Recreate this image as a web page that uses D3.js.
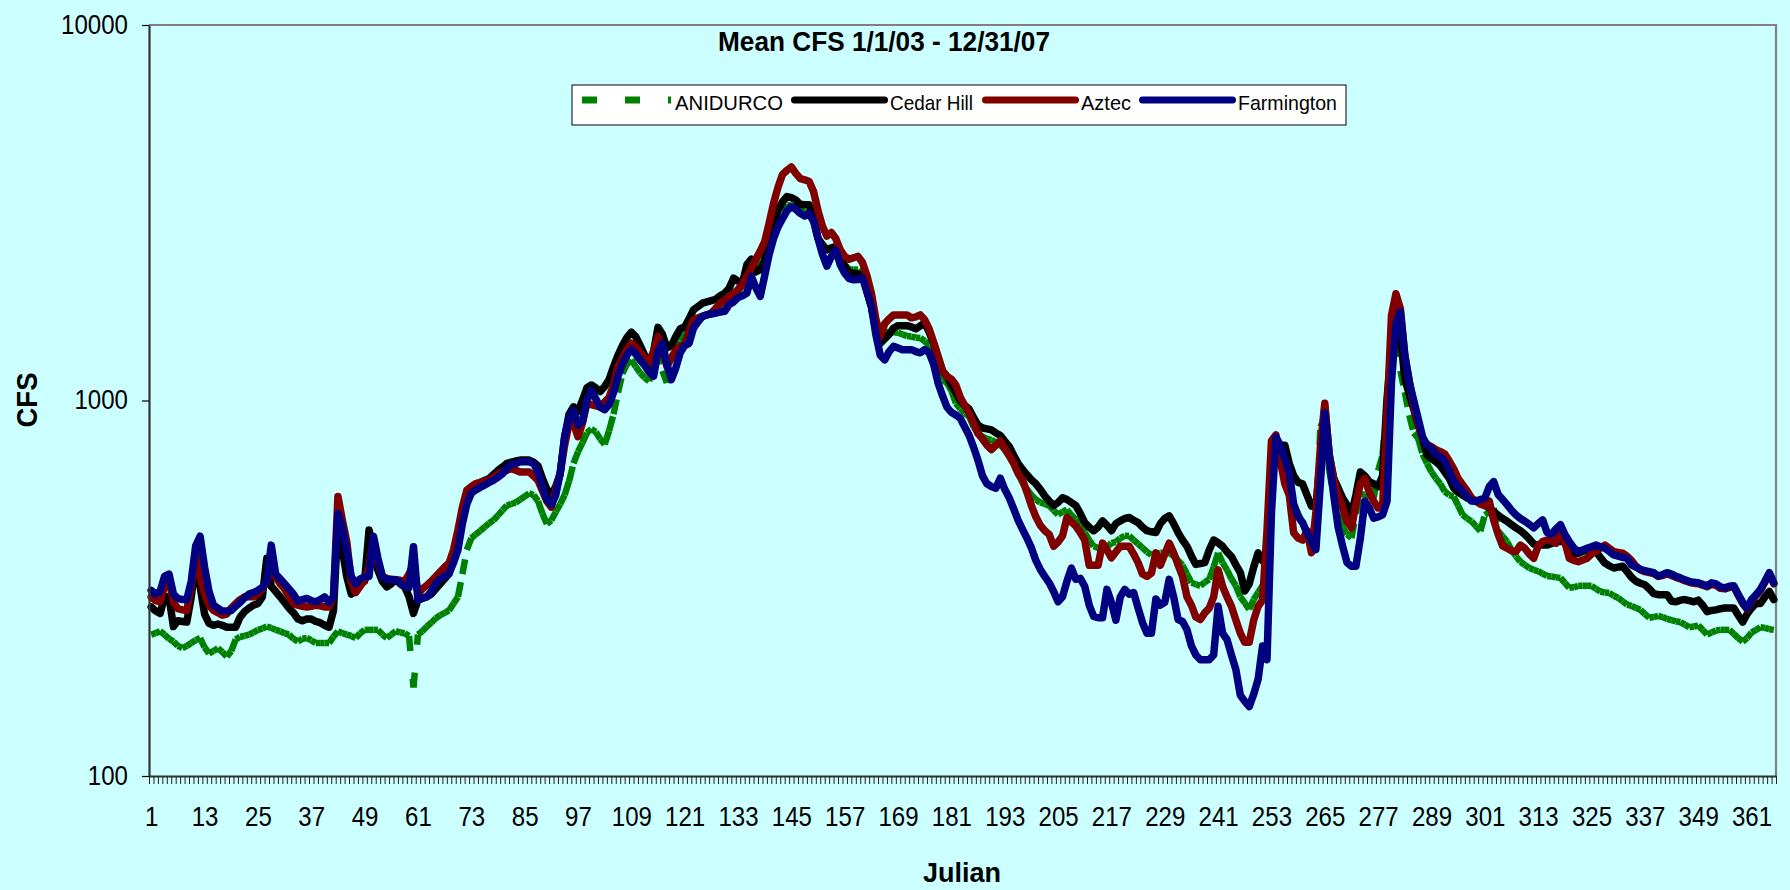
<!DOCTYPE html>
<html><head><meta charset="utf-8">
<script src="https://cdn.jsdelivr.net/npm/d3@7"></script>
<style>html,body{margin:0;padding:0;background:#CCFFFF;overflow:hidden}</style>
</head><body>
<svg id="c" width="1790" height="890"></svg>
<script>
// ---- data ----
const anidurco = [
238,240,243,238,232,228,222,219,222,226,
230,233,220,212,215,219,214,208,215,231,
235,236,238,241,245,247,250,248,245,243,
240,238,232,228,232,233,230,226,226,226,
226,235,243,240,238,236,233,240,245,245,
245,245,238,233,238,243,241,240,236,172,
238,243,250,256,263,268,272,276,288,300,
345,400,430,440,450,460,471,480,494,510,
525,530,535,545,555,566,560,540,500,469,
480,505,530,560,610,680,730,771,820,840,
825,790,764,830,920,1050,1180,1250,1283,1230,
1185,1150,1125,1250,1366,1200,1114,1280,1340,1440,
1500,1560,1609,1640,1675,1690,1705,1720,1760,1800,
1850,1893,1950,2013,2080,2140,2250,2378,2500,2800,
3050,3212,3280,3320,3300,3280,3220,3180,3150,3000,
2650,2580,2519,2560,2500,2378,2300,2232,2232,2232,
2150,1950,1750,1560,1450,1500,1530,1520,1515,1500,
1485,1480,1470,1467,1440,1400,1280,1205,1134,1114,
1063,983,950,925,907,850,820,801,790,785,
775,761,740,713,680,640,603,580,560,545,
535,530,525,510,497,505,512,495,482,465,
445,425,409,405,401,408,417,420,430,436,
436,425,415,405,395,388,390,393,393,393,
385,375,364,345,327,324,321,328,334,360,
393,370,354,335,321,300,289,278,295,308,
321,330,600,720,700,640,580,530,500,470,
440,430,450,850,900,650,560,500,460,440,
430,500,562,562,556,550,650,716,1010,1375,
1430,1200,1052,914,820,793,720,680,645,620,
600,572,560,555,525,496,485,477,463,449,
496,505,517,449,435,421,400,385,372,365,
358,354,351,346,341,340,338,337,327,317,
318,321,321,321,321,315,310,308,307,302,
298,292,286,284,280,277,270,264,265,267,
265,262,260,258,257,253,249,250,252,245,
238,241,244,245,245,245,239,233,228,233,
241,245,249,248,246,245];

const cedarHill = [
282,275,271,300,300,250,259,258,257,300,
369,320,270,255,252,254,252,249,249,249,
265,274,280,285,288,300,380,320,310,300,
290,280,272,262,259,262,262,258,256,252,
249,276,471,400,339,305,315,325,330,452,
400,353,330,319,325,333,325,319,300,271,
294,297,300,305,315,325,335,346,380,435,
500,555,580,597,605,612,619,635,651,665,
680,685,690,694,694,694,685,670,620,580,
560,590,638,800,920,962,935,1000,1080,1100,
1080,1057,1090,1137,1230,1320,1400,1470,1520,1480,
1400,1320,1250,1350,1566,1500,1380,1400,1480,1552,
1570,1650,1745,1780,1816,1830,1845,1860,1900,1930,
1990,2117,2080,2054,2300,2378,2200,2230,2350,2680,
2950,3212,3380,3493,3470,3420,3330,3320,3320,3100,
2700,2600,2519,2550,2570,2400,2280,2200,2183,2170,
2160,1950,1780,1560,1420,1460,1500,1560,1582,1582,
1582,1570,1552,1580,1609,1520,1420,1300,1200,1160,
1100,1050,1000,970,948,900,860,845,840,835,
820,807,780,754,715,680,655,634,615,600,
580,557,540,525,535,551,545,535,525,500,
473,460,450,460,478,465,450,470,478,485,
488,480,473,460,450,447,445,470,485,493,
470,445,425,409,385,366,368,370,400,425,
418,409,395,384,365,348,311,325,360,393,
374,380,720,780,760,760,680,630,605,600,
560,523,520,700,960,720,620,585,550,527,
496,560,645,630,608,600,590,630,1010,1375,
1750,1500,1145,1037,950,862,790,716,700,687,
670,645,620,585,570,560,550,545,539,533,
528,517,506,495,485,477,467,458,450,440,
428,415,412,412,412,416,421,421,421,405,
390,392,396,400,398,396,382,369,363,358,
360,362,350,338,330,326,323,315,306,304,
304,304,292,291,294,295,293,291,294,285,
274,276,277,279,280,280,280,268,257,270,
280,288,288,300,310,295];

const aztec = [
300,293,291,320,335,290,279,277,276,320,
391,340,305,285,276,272,268,270,280,288,
295,300,300,300,305,315,330,362,340,325,
315,300,288,285,283,282,283,285,284,282,
282,300,555,480,420,330,308,320,333,360,
427,370,339,336,334,333,332,330,345,369,
305,315,322,330,340,350,360,369,400,452,
520,577,590,601,605,610,613,625,637,645,
652,658,652,645,645,645,630,613,575,539,
520,580,640,760,869,869,801,870,983,975,
968,962,990,1020,1100,1232,1300,1370,1420,1390,
1340,1300,1258,1350,1480,1380,1232,1300,1360,1394,
1410,1530,1640,1660,1675,1690,1710,1760,1816,1850,
1893,1930,1975,2040,2140,2250,2378,2500,2650,2966,
3350,3700,4000,4100,4190,4025,3900,3870,3830,3600,
3200,2910,2740,2800,2700,2519,2420,2378,2400,2420,
2330,2150,1932,1650,1480,1600,1650,1690,1690,1690,
1690,1660,1670,1690,1640,1552,1430,1312,1200,1160,
1140,1100,1020,970,925,870,816,790,761,740,
760,780,745,713,680,640,615,570,525,490,
465,450,440,409,420,436,488,475,463,445,
425,364,364,364,417,400,381,395,409,409,
409,390,370,345,340,347,393,364,390,417,
393,365,340,300,285,265,261,272,280,300,
354,320,300,283,260,240,227,227,260,283,
294,450,780,810,692,600,560,444,430,425,
450,393,502,750,983,712,620,560,520,477,
458,530,600,620,570,539,517,520,914,1686,
1925,1756,1319,1130,970,870,790,765,753,740,
731,720,690,658,620,597,575,550,540,530,
524,539,480,440,410,404,398,396,412,404,
390,380,410,421,425,423,417,458,420,380,
375,372,376,380,390,396,405,412,404,396,
394,392,385,375,362,354,350,348,346,340,
342,345,342,338,335,331,328,326,325,322,
319,324,322,316,315,318,319,303,288,278,
293,302,312,328,345,325];

const farmington = [
312,305,310,340,345,305,297,295,295,330,
410,435,360,310,285,280,275,275,276,283,
290,298,305,308,312,318,330,412,345,335,
325,315,305,292,295,297,293,291,295,300,
290,300,500,460,400,340,325,335,339,340,
435,380,340,333,333,333,328,320,318,408,
294,298,300,310,325,335,340,346,370,400,
470,530,566,578,587,595,605,613,625,638,
660,675,680,687,687,687,680,645,590,545,
528,560,640,800,900,940,860,880,1000,1066,
1010,960,945,975,1050,1160,1250,1320,1366,1330,
1280,1240,1190,1160,1350,1420,1250,1137,1220,1340,
1400,1420,1560,1620,1675,1690,1700,1710,1720,1727,
1800,1830,1880,1900,1932,2140,2000,1893,2150,2450,
2700,2900,3050,3200,3280,3230,3150,3100,3150,3000,
2700,2450,2280,2420,2519,2300,2183,2110,2096,2100,
2120,1950,1780,1500,1320,1283,1350,1394,1380,1366,
1366,1366,1350,1340,1366,1340,1250,1114,1030,960,
930,915,897,850,807,750,692,630,600,590,
584,621,580,551,515,480,454,430,405,375,
355,340,327,310,291,300,330,358,334,336,
320,285,266,264,264,314,290,260,300,314,
305,308,280,256,240,240,296,285,290,334,
300,261,258,245,222,210,204,204,204,210,
283,240,231,210,192,164,158,153,165,181,
222,204,502,800,760,700,640,530,490,473,
445,420,401,600,925,700,560,460,410,370,
362,362,430,539,517,486,490,496,539,1121,
1600,1722,1319,1120,1000,896,800,760,746,720,
710,687,650,608,590,572,555,540,539,545,
550,590,608,562,545,528,510,496,485,477,
468,458,470,481,445,440,455,467,440,421,
405,396,400,404,408,412,408,404,396,388,
385,382,380,365,360,355,352,350,348,341,
344,348,345,340,337,333,330,328,327,324,
321,327,325,319,317,320,321,305,290,280,
295,304,314,330,348,327];

const seriesNames = ["ANIDURCO", "Cedar Hill", "Aztec", "Farmington"];
const seriesColors = ["#008000", "#000000", "#800000", "#000080"];
const seriesValues = [anidurco, cedarHill, aztec, farmington];
const yTickValues = [100, 1000, 10000];
const xLabelDays = [1,13,25,37,49,61,73,85,97,109,121,133,145,157,169,181,193,205,217,229,241,253,265,277,289,301,313,325,337,349,361];
const nDays = 366;

// ---- layout ----
const W = 1790, H = 890;
const L = 149, R = 1776, T = 25, B = 776;
const FONT = "'Liberation Sans', Arial, Helvetica, sans-serif";
const SX = 0.86; // horizontal condensing of the axis digits

const svg = d3.select("#c");
svg.append("rect").attr("width", W).attr("height", H).attr("fill", "#CCFFFF");

const xb = d3.scaleLinear().domain([0, nDays]).range([L, R]);
const y = d3.scaleLog().domain([100, 10000]).range([B, T]);
const xc = d => xb(d - 0.5);

// plot frame (top + right grey)
svg.append("path")
  .attr("d", `M${L},${T}H${R}V${B}`)
  .attr("fill", "none").attr("stroke", "#808080").attr("stroke-width", 2.2);

// ---- series ----
const line = d3.line().x(d => xc(d.day)).y(d => y(d.v)).curve(d3.curveLinear);
const plot = svg.append("g");
seriesValues.forEach((vals, si) => {
  const pts = vals.map((v, i) => ({day: i + 1, v}));
  if (si === 0) {
    // dashed series: dash pattern restarts on every segment
    plot.append("g").selectAll("path").data(d3.pairs(pts)).join("path")
      .attr("d", p => line(p))
      .attr("fill", "none").attr("stroke", seriesColors[si])
      .attr("stroke-width", 6.5).attr("stroke-dasharray", "15,28")
      .attr("stroke-linecap", "butt");
  } else {
    plot.append("path").datum(pts).attr("d", line)
      .attr("fill", "none").attr("stroke", seriesColors[si])
      .attr("stroke-width", 7.5).attr("stroke-linejoin", "round").attr("stroke-linecap", "round");
  }
});

// ---- axes ----
const yAxis = svg.append("g").attr("transform", `translate(${L},0)`)
  .call(d3.axisLeft(y).tickValues(yTickValues).tickSize(7).tickSizeOuter(0).tickFormat(d3.format("d")));
yAxis.select(".domain").attr("stroke", "#333").attr("stroke-width", 2.2);
yAxis.selectAll(".tick line").attr("stroke", "#000").attr("stroke-width", 1.2);
yAxis.selectAll("text").attr("font-family", FONT).attr("font-size", 28).attr("fill", "#000")
  .attr("x", -21 / SX).attr("dy", 0).attr("y", 8)
  .attr("transform", `scale(${SX},1)`);

const xTicks = svg.append("g").attr("transform", `translate(0,${B})`)
  .call(d3.axisBottom(xb).tickValues(d3.range(0, nDays + 1)).tickSize(8).tickSizeOuter(0).tickFormat(""));
xTicks.select(".domain").attr("stroke", "#333").attr("stroke-width", 2.2);
xTicks.selectAll(".tick line").attr("stroke", "#222").attr("stroke-width", 1);

const xLab = svg.append("g").attr("transform", `translate(0,${B})`)
  .call(d3.axisBottom(xb).tickValues(xLabelDays.map(d => d - 0.5)).tickSize(0).tickFormat(d => String(d + 0.5)));
xLab.select(".domain").remove();
xLab.selectAll("text").attr("font-family", FONT).attr("font-size", 28).attr("fill", "#000")
  .attr("y", 50).attr("dy", 0).attr("transform", `scale(${SX},1)`);

// ---- titles ----
svg.append("text").text("Mean CFS 1/1/03 - 12/31/07")
  .attr("x", 718).attr("y", 51).attr("font-family", FONT).attr("font-weight", "bold")
  .attr("font-size", 28).attr("textLength", 332).attr("lengthAdjust", "spacingAndGlyphs");

svg.append("text").text("CFS")
  .attr("transform", "translate(37,400) rotate(-90)").attr("text-anchor", "middle")
  .attr("font-family", FONT).attr("font-weight", "bold").attr("font-size", 30)
  .attr("textLength", 55).attr("lengthAdjust", "spacingAndGlyphs");

svg.append("text").text("Julian")
  .attr("x", 962).attr("y", 882).attr("text-anchor", "middle")
  .attr("font-family", FONT).attr("font-weight", "bold").attr("font-size", 28)
  .attr("textLength", 78).attr("lengthAdjust", "spacingAndGlyphs");

// ---- legend ----
const lg = svg.append("g");
lg.append("rect").attr("x", 572).attr("y", 85).attr("width", 774).attr("height", 40)
  .attr("fill", "#fff").attr("stroke", "#000").attr("stroke-width", 1);
const legendItems = [
  {x0: 582, x1: 671, tx: 675, tl: 108},
  {x0: 794.5, x1: 884.5, tx: 890, tl: 83},
  {x0: 985.5, x1: 1075.5, tx: 1081, tl: 50},
  {x0: 1142.5, x1: 1232.5, tx: 1238, tl: 99}
];
legendItems.forEach((it, i) => {
  const p = lg.append("path").attr("d", `M${it.x0},100H${it.x1}`)
    .attr("stroke", seriesColors[i]).attr("fill", "none");
  if (i === 0) p.attr("stroke-width", 7).attr("stroke-dasharray", "15,28");
  else p.attr("stroke-width", 7).attr("stroke-linecap", "round");
  lg.append("text").text(seriesNames[i]).attr("x", it.tx).attr("y", 110)
    .attr("font-family", FONT).attr("font-size", 21)
    .attr("textLength", it.tl).attr("lengthAdjust", "spacingAndGlyphs");
});
</script>
</body></html>
